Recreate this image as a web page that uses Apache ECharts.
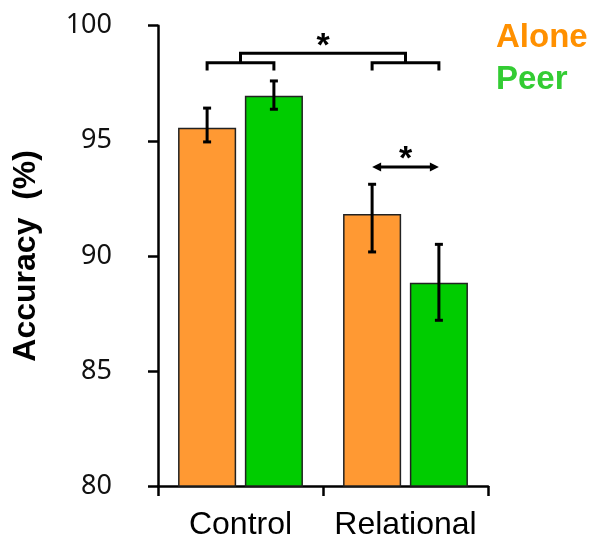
<!DOCTYPE html>
<html>
<head>
<meta charset="utf-8">
<script src="https://cdn.jsdelivr.net/npm/echarts@6/dist/echarts.min.js"></script>
<style>html,body{margin:0;padding:0;background:#fff;}#c{width:592px;height:541px;}</style>
</head>
<body>
<div id="c"></div>
<script>
const categories = ['Control', 'Relational'];
const seriesNames = ['Alone', 'Peer'];
const aloneMean = [95.57, 91.82];
const peerMean = [96.96, 88.83];
const aloneErrLow = [94.95, 90.17];
const aloneErrHigh = [96.42, 93.11];
const peerErrLow = [96.37, 87.20];
const peerErrHigh = [97.60, 90.50];
const yTicks = [80, 85, 90, 95, 100];

const ORANGE = '#FF9933', GREEN = '#00CC00';
const BAR_RATIO = 0.352, BAR_GAP = 0.15;

function barOffset(bandW, idx) {
  const w = bandW * BAR_RATIO;
  const d = (w + w * BAR_GAP) / 2;
  return idx === 0 ? -d : d;
}

const errData = [];
categories.forEach((c, i) => {
  errData.push([i, aloneErrLow[i], aloneErrHigh[i], 0]);
  errData.push([i, peerErrLow[i], peerErrHigh[i], 1]);
});

const lineStyle = { stroke: '#000', lineWidth: 3 };

function renderErr(params, api) {
  const ci = api.value(0);
  const bandW = api.size([1, 0])[0];
  const off = barOffset(bandW, api.value(3));
  const lo = api.coord([ci, api.value(1)]);
  const hi = api.coord([ci, api.value(2)]);
  const x = lo[0] + off;
  const cw = 4;
  return { type: 'group', children: [
    { type: 'line', shape: { x1: x, y1: lo[1], x2: x, y2: hi[1] }, style: lineStyle },
    { type: 'line', shape: { x1: x - cw, y1: lo[1], x2: x + cw, y2: lo[1] }, style: lineStyle },
    { type: 'line', shape: { x1: x - cw, y1: hi[1], x2: x + cw, y2: hi[1] }, style: lineStyle }
  ]};
}

// annotation levels (data units)
const BR_LEVEL = 98.39, BR_LEG = 98.05, BR_TOP = 98.8, STAR1 = 99.08;
const ARROW_LEVEL = 93.86, STAR2 = 94.18;

function renderAnno(params, api) {
  const bandW = api.size([1, 0])[0];
  const p = (ci, v, idx) => { const q = api.coord([ci, v]); return [q[0] + (idx === undefined ? 0 : barOffset(bandW, idx)), q[1]]; };
  const ch = [];
  const bracket = (ci) => {
    const a = p(ci, BR_LEVEL, 0), b = p(ci, BR_LEVEL, 1), la = p(ci, BR_LEG, 0);
    ch.push({ type: 'polyline', shape: { points: [[a[0], la[1]], a, b, [b[0], la[1]]] }, style: { stroke: '#000', lineWidth: 3, fill: null } });
  };
  bracket(0); bracket(1);
  const m0 = p(0, BR_LEVEL), m1 = p(1, BR_LEVEL), t0 = p(0, BR_TOP), t1 = p(1, BR_TOP);
  ch.push({ type: 'polyline', shape: { points: [m0, t0, t1, m1] }, style: { stroke: '#000', lineWidth: 3, fill: null } });
  const s1 = p(0, STAR1);
  ch.push({ type: 'text', style: { text: '*', x: (t0[0] + t1[0]) / 2, y: s1[1], font: 'bold 34px "Liberation Sans", Arial', fill: '#000', align: 'center', verticalAlign: 'middle' } });
  // arrow
  const a0 = p(1, ARROW_LEVEL, 0), a1 = p(1, ARROW_LEVEL, 1);
  const hl = 9, hh = 4.5;
  ch.push({ type: 'line', shape: { x1: a0[0] + 4, y1: a0[1], x2: a1[0] - 4, y2: a1[1] }, style: { stroke: '#000', lineWidth: 3 } });
  ch.push({ type: 'polygon', shape: { points: [[a0[0], a0[1]], [a0[0] + hl, a0[1] - hh], [a0[0] + hl, a0[1] + hh]] }, style: { fill: '#000' } });
  ch.push({ type: 'polygon', shape: { points: [[a1[0], a1[1]], [a1[0] - hl, a1[1] - hh], [a1[0] - hl, a1[1] + hh]] }, style: { fill: '#000' } });
  const s2 = p(1, STAR2);
  ch.push({ type: 'text', style: { text: '*', x: (a0[0] + a1[0]) / 2, y: s2[1], font: 'bold 34px "Liberation Sans", Arial', fill: '#000', align: 'center', verticalAlign: 'middle' } });
  return { type: 'group', children: ch };
}

const chart = echarts.init(document.getElementById('c'), null, { renderer: 'canvas' });
chart.setOption({
  animation: false,
  backgroundColor: '#fff',
  grid: { left: 158, right: 104, top: 25.7, bottom: 55, containLabel: false, outerBoundsMode: 'none' },
  legend: {
    orient: 'vertical', left: 486, top: 16, icon: 'none', itemWidth: 0, itemHeight: 0, itemGap: 9,
    selectedMode: false,
    textStyle: { fontSize: 33, fontWeight: 'bold', fontFamily: '"Liberation Sans", Arial' },
    data: [
      { name: seriesNames[0], textStyle: { color: '#FF9000' } },
      { name: seriesNames[1], textStyle: { color: '#33CC33' } }
    ]
  },
  xAxis: {
    type: 'category', data: categories,
    axisLine: { lineStyle: { color: '#000', width: 2.5 } },
    axisTick: { show: true, length: 10, lineStyle: { color: '#000', width: 2.5 } },
    axisLabel: { color: '#000', fontSize: 32, fontFamily: '"Liberation Sans", Arial', margin: 23, interval: 0, hideOverlap: false }
  },
  yAxis: {
    type: 'value', min: yTicks[0], max: yTicks[yTicks.length - 1], interval: 5,
    name: 'Accuracy  (%)', nameLocation: 'middle', nameRotate: 90, nameGap: 116,
    nameTextStyle: { color: '#000', fontSize: 32, fontWeight: 'bold', fontFamily: '"Liberation Sans", Arial' },
    axisLine: { show: true, lineStyle: { color: '#000', width: 2.5 } },
    axisTick: { show: true, length: 10, lineStyle: { color: '#000', width: 2.5 } },
    splitLine: { show: false },
    axisLabel: { color: '#111', fontSize: 27, fontFamily: '"Noto Sans"', margin: 46 }
  },
  series: [
    { name: seriesNames[0], type: 'bar', data: aloneMean, barWidth: (BAR_RATIO * 100) + '%', barGap: (BAR_GAP * 100) + '%',
      itemStyle: { color: ORANGE, borderColor: '#222', borderWidth: 1.5 } },
    { name: seriesNames[1], type: 'bar', data: peerMean, barWidth: (BAR_RATIO * 100) + '%', barGap: (BAR_GAP * 100) + '%',
      itemStyle: { color: GREEN, borderColor: '#222', borderWidth: 1.5 } },
    { type: 'custom', data: errData, renderItem: renderErr, z: 5, encode: { x: 0, y: [1, 2] } },
    { type: 'custom', data: [[0, 90]], renderItem: renderAnno, z: 5, clip: false, encode: { x: 0, y: 1 } }
  ]
});
</script>
</body>
</html>
